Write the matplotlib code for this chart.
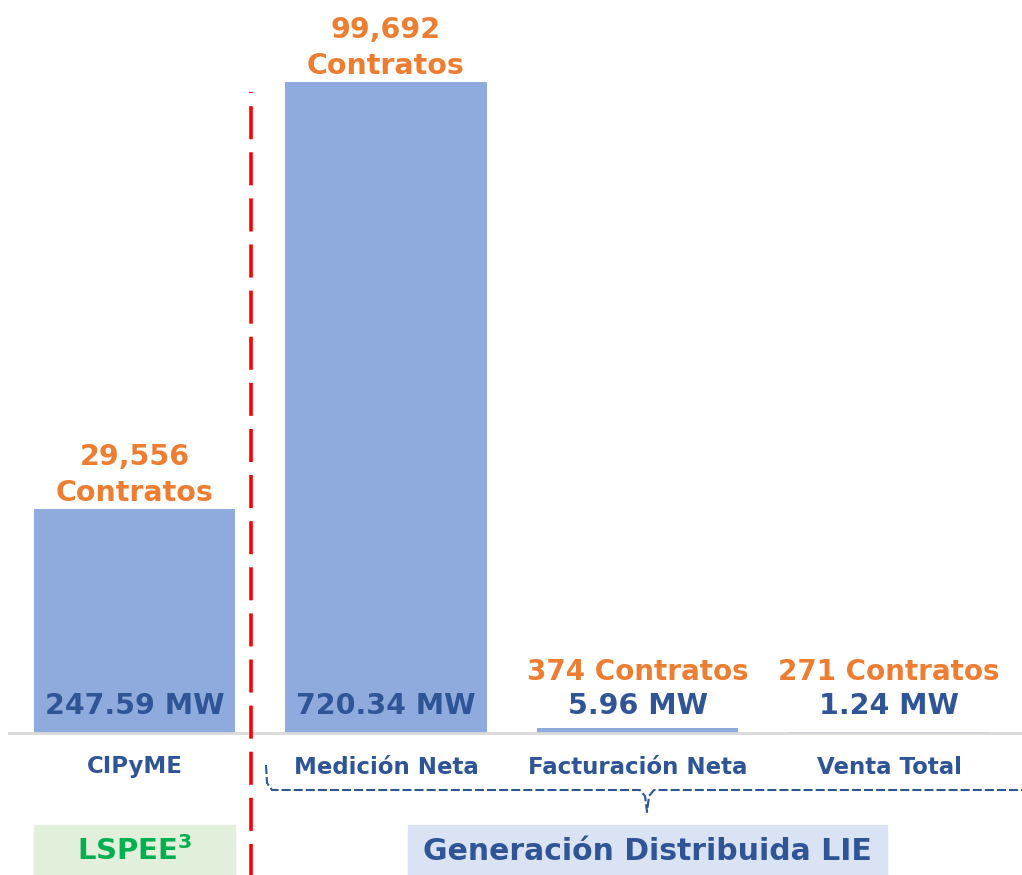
import matplotlib.pyplot as plt
from matplotlib.patches import Rectangle
from matplotlib.lines import Line2D

plt.rcParams["lines.scale_dashes"] = False

categories = ["CIPyME", "Medición Neta", "Facturación Neta", "Venta Total"]
mw = [247.59, 720.34, 5.96, 1.24]
contratos = ["29,556", "99,692", "374", "271"]

blue = "#2F5597"
orange = "#ED7D31"
bar_color = "#8FAADC"

W, H = 1022, 875
fig = plt.figure(figsize=(W / 100, H / 100), dpi=100)


def fx(x):
    return x / W


def fy(y):
    return 1 - y / H


# axes: baseline at y=733px, bar centers spaced 251.5px
ax = fig.add_axes([fx(8.75), fy(733), fx(1006), 733 / H])
x = list(range(len(categories)))
ax.bar(x, mw, width=0.8, color=bar_color)
ax.set_xlim(-0.5, 3.5)
ax.set_ylim(0, 720.34 * 733 / 651)
ax.axis("off")
ax.add_line(Line2D([-0.5, 3.55], [0, 0], color="#D9D9D9", lw=2, clip_on=False))

px = 0.72  # points per pixel
for i, (v, c) in enumerate(zip(mw, contratos)):
    ax.annotate(f"{v:.2f} MW", (i, 0), xytext=(0, 27 * px), textcoords="offset points",
                ha="center", va="center", fontsize=20.5, fontweight="bold", color=blue)
    if v > 100:
        ax.annotate(f"{c}\nContratos", (i, v), xytext=(0, 34 * px), textcoords="offset points",
                    ha="center", va="center", fontsize=20.5, fontweight="bold", color=orange,
                    linespacing=1.35)
    else:
        ax.annotate(f"{c} Contratos", (i, 0), xytext=(0, 61 * px), textcoords="offset points",
                    ha="center", va="center", fontsize=20, fontweight="bold", color=orange)
    ax.annotate(categories[i], (i, 0), xytext=(0, -34 * px), textcoords="offset points",
                ha="center", va="center", fontsize=16.5, fontweight="bold", color=blue,
                annotation_clip=False)

# red dashed separator
fig.add_artist(Line2D([fx(251), fx(251)], [fy(92), fy(875)], color="#FF0000", lw=2.6,
                      linestyle=(23.0, (23.8, 9.4))))

# dashed brace under the LIE categories
bx = [266, 267, 272, 640, 645, 647, 649, 654, 1022]
by = [765, 783, 790, 790, 796, 812, 796, 790, 790]
fig.add_artist(Line2D([fx(v) for v in bx], [fy(v) for v in by], color=blue, lw=1.5,
                      linestyle=(0, (6.5, 2.2))))

# bottom boxes
fig.add_artist(Rectangle((fx(34), fy(875)), fx(201), 50 / H, color="#E2EFDA"))
fig.text(fx(134.5), fy(851), "LSPEE$^{\\mathbf{3}}$", ha="center", va="center", fontsize=21,
         fontweight="bold", color="#00B050")
fig.add_artist(Rectangle((fx(408), fy(875)), fx(479), 50 / H, color="#DAE3F3"))
fig.text(fx(647.5), fy(851), "Generación Distribuida LIE", ha="center", va="center",
         fontsize=21.5, fontweight="bold", color=blue)

fig.savefig("out.png", dpi=100)
